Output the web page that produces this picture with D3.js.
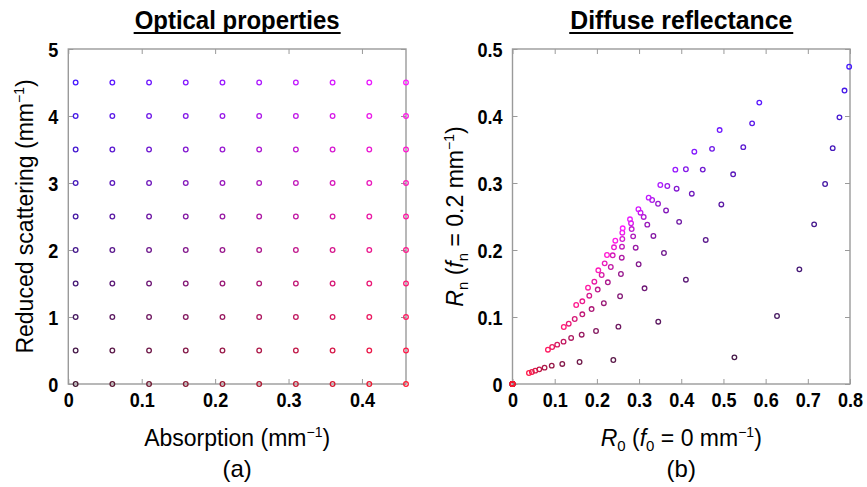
<!DOCTYPE html>
<html>
<head>
<meta charset="utf-8">
<script src="https://cdn.jsdelivr.net/npm/d3@7"></script>
<style>
  html, body { margin: 0; padding: 0; background: #fff; }
  svg { display: block; font-family: "Liberation Sans", Arial, Helvetica, sans-serif; }
</style>
</head>
<body>
<svg id="chart" width="867" height="487"></svg>
<script>
// ---- data ----
const absorption = [0.01, 0.06, 0.11, 0.16, 0.21, 0.26, 0.31, 0.36, 0.41, 0.46];
const scattering = [0, 0.5, 1, 1.5, 2, 2.5, 3, 3.5, 4, 4.5];
// rows: scattering, columns: absorption
const R0 = [
  [0, 0, 0, 0, 0, 0, 0, 0, 0, 0],
  [0.526, 0.239, 0.159, 0.118, 0.093, 0.076, 0.0635, 0.054, 0.046, 0.039],
  [0.627, 0.3455, 0.251, 0.198, 0.164, 0.139, 0.121, 0.106, 0.094, 0.084],
  [0.680, 0.411, 0.313, 0.255, 0.2165, 0.1875, 0.1655, 0.1475, 0.1333, 0.1216],
  [0.715, 0.458, 0.359, 0.299, 0.257, 0.226, 0.202, 0.182, 0.1655, 0.151],
  [0.741, 0.495, 0.395, 0.334, 0.292, 0.259, 0.233, 0.2114, 0.194, 0.179],
  [0.759, 0.523, 0.425, 0.364, 0.3195, 0.286, 0.2595, 0.2375, 0.2185, 0.2034],
  [0.775, 0.547, 0.451, 0.389, 0.345, 0.311, 0.2825, 0.2603, 0.2406, 0.224],
  [0.787, 0.568, 0.473, 0.411, 0.367, 0.331, 0.3035, 0.281, 0.2603, 0.2437],
  [0.798, 0.585, 0.491, 0.431, 0.386, 0.3504, 0.3228, 0.2985, 0.2785, 0.2612]
];
const Rn = [
  [0, 0, 0, 0, 0, 0, 0, 0, 0, 0],
  [0.0398, 0.0358, 0.0328, 0.0299, 0.0274, 0.0244, 0.0219, 0.0199, 0.0179, 0.0164],
  [0.1015, 0.093, 0.0856, 0.0791, 0.0736, 0.0687, 0.0632, 0.0587, 0.0552, 0.0512],
  [0.1711, 0.1557, 0.1428, 0.1310, 0.1206, 0.1119, 0.1040, 0.0970, 0.0900, 0.0851],
  [0.2383, 0.215, 0.1955, 0.1787, 0.1642, 0.1518, 0.1410, 0.1318, 0.1234, 0.1179],
  [0.2985, 0.268, 0.242, 0.221, 0.2034, 0.1885, 0.1746, 0.1627, 0.1527, 0.1437],
  [0.352, 0.313, 0.284, 0.259, 0.2378, 0.2204, 0.2049, 0.1921, 0.1801, 0.1697],
  [0.398, 0.3535, 0.320, 0.2915, 0.269, 0.2493, 0.2313, 0.2164, 0.2040, 0.1925],
  [0.438, 0.389, 0.351, 0.3205, 0.2955, 0.2746, 0.2557, 0.2399, 0.2258, 0.2139],
  [0.4736, 0.420, 0.379, 0.3467, 0.3199, 0.297, 0.2781, 0.261, 0.2458, 0.2324]
];
const leftXTicks = [0, 0.1, 0.2, 0.3, 0.4];
const leftYTicks = [0, 1, 2, 3, 4, 5];
const rightXTicks = [0, 0.1, 0.2, 0.3, 0.4, 0.5, 0.6, 0.7, 0.8];
const rightYTicks = [0, 0.1, 0.2, 0.3, 0.4, 0.5];

// flatten: absorption outer, scattering inner (so red origin point drawn last)
const points = [];
absorption.forEach((a, j) => {
  scattering.forEach((s, i) => {
    points.push({ a, s, r0: R0[i][j], rn: Rn[i][j] });
  });
});

const redScale = d3.scaleLinear().domain([0.01, 0.46]).range([70, 255]);
const blueScale = d3.scaleLinear().domain([0, 4.5]).range([50, 255]);
const colorOf = d => `rgb(${Math.round(redScale(d.a))},25,${Math.round(blueScale(d.s))})`;

const svg = d3.select("#chart");
const TOP = 49, BOTTOM = 384;
const tickFont = 21, labelFont = 23;

function condense(sel, f) {
  sel.each(function () {
    const w = this.getComputedTextLength();
    if (w > 0) d3.select(this).attr("textLength", w * f).attr("lengthAdjust", "spacingAndGlyphs");
  });
}

function panel(opts) {
  const x = d3.scaleLinear().domain(opts.xDomain).range([opts.left, opts.right]);
  const y = d3.scaleLinear().domain(opts.yDomain).range([BOTTOM, TOP]);
  const g = svg.append("g");
  const axisColor = "#9a9a9a";

  const bx = g.append("g").attr("transform", `translate(0,${BOTTOM})`)
    .call(d3.axisBottom(x).tickValues(opts.xTicks).tickSizeInner(-5).tickSizeOuter(0).tickPadding(12)
      .tickFormat(d => d3.format("~g")(d)));
  const tx = g.append("g").attr("transform", `translate(0,${TOP})`)
    .call(d3.axisTop(x).tickValues(opts.xTicks).tickSizeInner(-5).tickSizeOuter(0).tickFormat(""));
  const ly = g.append("g").attr("transform", `translate(${opts.left},0)`)
    .call(d3.axisLeft(y).tickValues(opts.yTicks).tickSizeInner(-5).tickSizeOuter(0).tickPadding(10)
      .tickFormat(d => d3.format("~g")(d)));
  const ry = g.append("g").attr("transform", `translate(${opts.right},0)`)
    .call(d3.axisRight(y).tickValues(opts.yTicks).tickSizeInner(-5).tickSizeOuter(0).tickFormat(""));
  [bx, tx, ly, ry].forEach(ax => {
    ax.select(".domain").remove();
    ax.selectAll(".tick line").attr("stroke", axisColor).attr("stroke-width", 1);
    ax.selectAll("text").attr("fill", "#000").attr("font-size", tickFont).attr("font-weight", "bold")
      .attr("font-family", '"Liberation Sans", Arial, sans-serif');
  });
  bx.selectAll("text").attr("dy", "0.5em");
  ly.selectAll("text").attr("dy", "0.36em");
  condense(bx.selectAll("text"), 0.86);
  condense(ly.selectAll("text"), 0.86);

  g.append("rect").attr("x", opts.left).attr("y", TOP)
    .attr("width", opts.right - opts.left).attr("height", BOTTOM - TOP)
    .attr("fill", "none").attr("stroke", axisColor).attr("stroke-width", 1.4);

  g.append("g").selectAll("circle").data(points).join("circle")
    .attr("cx", d => x(opts.xv(d)))
    .attr("cy", d => y(opts.yv(d)))
    .attr("r", 2.3)
    .attr("fill", "none")
    .attr("stroke", colorOf)
    .attr("stroke-width", 1.3);

  const cx = (opts.left + opts.right) / 2;
  const t = svg.append("text").attr("x", cx).attr("y", 29).attr("text-anchor", "middle")
    .attr("font-size", 26).attr("font-weight", "bold").text(opts.title);
  t.attr("textLength", opts.titleWidth).attr("lengthAdjust", "spacingAndGlyphs");
  const w = opts.titleWidth;
  svg.append("line").attr("x1", cx - w / 2 - 1).attr("x2", cx + w / 2 + 1)
    .attr("y1", 33).attr("y2", 33).attr("stroke", "#000").attr("stroke-width", 2);

  const xl = svg.append("text").attr("x", cx).attr("y", 446).attr("text-anchor", "middle")
    .attr("font-size", labelFont);
  opts.xLabel(xl);
  svg.append("text").attr("x", cx).attr("y", 477).attr("text-anchor", "middle")
    .attr("font-size", 24).text(opts.letter);
  const yl = svg.append("text")
    .attr("transform", `translate(${opts.yLabelX},${(TOP + BOTTOM) / 2}) rotate(-90)`)
    .attr("text-anchor", "middle").attr("font-size", labelFont);
  opts.yLabel(yl);
}

function sup(t, s) {
  t.append("tspan").attr("font-size", 14).attr("dy", -9).text(s);
  t.append("tspan").attr("dy", 9).text(")");
}

panel({
  left: 68.3, right: 406, xDomain: [0, 0.46], yDomain: [0, 5],
  xTicks: leftXTicks, yTicks: leftYTicks,
  xv: d => d.a, yv: d => d.s,
  title: "Optical properties", titleWidth: 205, letter: "(a)", yLabelX: 33,
  xLabel: t => { t.append("tspan").text("Absorption (mm"); sup(t, "\u22121"); },
  yLabel: t => { t.append("tspan").text("Reduced scattering (mm"); sup(t, "\u22121"); }
});

panel({
  left: 512.5, right: 850, xDomain: [0, 0.8], yDomain: [0, 0.5],
  xTicks: rightXTicks, yTicks: rightYTicks,
  xv: d => d.r0, yv: d => d.rn,
  title: "Diffuse reflectance", titleWidth: 222, letter: "(b)", yLabelX: 463,
  xLabel: t => {
    t.append("tspan").attr("font-style", "italic").text("R");
    t.append("tspan").attr("font-size", 15).attr("dy", 5).text("0");
    t.append("tspan").attr("dy", -5).text(" (");
    t.append("tspan").attr("font-style", "italic").text("f");
    t.append("tspan").attr("font-size", 15).attr("dy", 5).text("0");
    t.append("tspan").attr("dy", -5).text(" = 0 mm");
    sup(t, "\u22121");
  },
  yLabel: t => {
    t.append("tspan").attr("font-style", "italic").text("R");
    t.append("tspan").attr("font-size", 15).attr("dy", 5).text("n");
    t.append("tspan").attr("dy", -5).text(" (");
    t.append("tspan").attr("font-style", "italic").text("f");
    t.append("tspan").attr("font-size", 15).attr("dy", 5).text("n");
    t.append("tspan").attr("dy", -5).text(" = 0.2 mm");
    sup(t, "\u22121");
  }
});
</script>
</body>
</html>
